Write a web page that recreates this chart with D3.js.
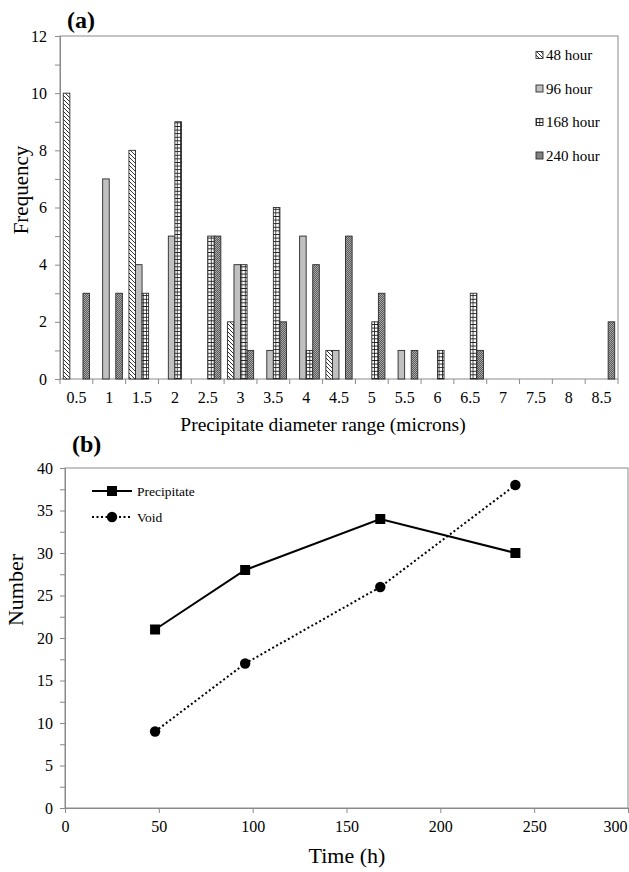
<!DOCTYPE html>
<html>
<head>
<meta charset="utf-8">
<script src="https://cdn.jsdelivr.net/npm/d3@7"></script>
<style>
  body { margin: 0; background: #fff; }
  text { font-family: "Liberation Serif", "Times New Roman", serif; fill: #000; }
</style>
</head>
<body>
<svg id="mainsvg" width="629" height="872"></svg>
<script>
// (a) frequency of precipitate diameters
const sizeBins = ['0.5', '1', '1.5', '2', '2.5', '3', '3.5', '4', '4.5', '5', '5.5', '6', '6.5', '7', '7.5', '8', '8.5'];
const seriesNames = ['48 hour', '96 hour', '168 hour', '240 hour'];
const freq48 = [10, 0, 8, 0, 0, 2, 0, 0, 1, 0, 0, 0, 0, 0, 0, 0, 0];
const freq96 = [0, 7, 4, 5, 0, 4, 1, 5, 1, 0, 1, 0, 0, 0, 0, 0, 0];
const freq168 = [0, 0, 3, 9, 5, 4, 6, 1, 0, 2, 0, 1, 3, 0, 0, 0, 0];
const freq240 = [3, 3, 0, 0, 5, 1, 2, 4, 5, 3, 1, 0, 1, 0, 0, 0, 2];
const freqTicks = [0, 2, 4, 6, 8, 10, 12];

// (b) counts over time
const times = [48, 96, 168, 240];
const precipitate = [21, 28, 34, 30];
const voids = [9, 17, 26, 38];
const timeTicks = [0, 50, 100, 150, 200, 250, 300];
const numberTicks = [0, 5, 10, 15, 20, 25, 30, 35, 40];

const svg = d3.select('#mainsvg');
const defs = svg.append('defs');
const axisGray = '#8a8a8a';

// patterns for the bars
const p48 = defs.append('pattern').attr('id', 'p48')
  .attr('patternUnits', 'userSpaceOnUse').attr('width', 4).attr('height', 4);
p48.append('rect').attr('width', 4).attr('height', 4).attr('fill', '#fff');
p48.append('path').attr('d', 'M-1,-1L5,5M3,-1L5,1M-1,3L1,5')
  .attr('stroke', '#333').attr('stroke-width', 1);

const p168 = defs.append('pattern').attr('id', 'p168')
  .attr('patternUnits', 'userSpaceOnUse').attr('width', 3.4).attr('height', 3.6);
p168.append('rect').attr('width', 3.4).attr('height', 3.6).attr('fill', '#1a1a1a');
p168.append('rect').attr('x', 0.8).attr('y', 0.9).attr('width', 2.6).attr('height', 2.7).attr('fill', '#fff');

const p240 = defs.append('pattern').attr('id', 'p240')
  .attr('patternUnits', 'userSpaceOnUse').attr('width', 2).attr('height', 2);
p240.append('rect').attr('width', 2).attr('height', 2).attr('fill', '#5c5c5c');
p240.append('rect').attr('width', 1).attr('height', 1).attr('fill', '#a8a8a8');
p240.append('rect').attr('x', 1).attr('y', 1).attr('width', 1).attr('height', 1).attr('fill', '#a8a8a8');

const fills = ['url(#p48)', '#c0c0c0', 'url(#p168)', 'url(#p240)'];

// ---------- chart (a) ----------
const A = { left: 60, right: 618, top: 36, bottom: 379 };
const x0 = d3.scaleBand().domain(sizeBins).range([A.left, A.right])
  .paddingInner(0.2).paddingOuter(0.1);
const x1 = d3.scaleBand().domain(seriesNames).range([0, x0.bandwidth()]);
const yA = d3.scaleLinear().domain([0, 12]).range([A.bottom, A.top]);

const ga = svg.append('g');
// frame
ga.append('rect').attr('x', A.left).attr('y', A.top)
  .attr('width', A.right - A.left).attr('height', A.bottom - A.top)
  .attr('fill', 'none').attr('stroke', axisGray).attr('stroke-width', 1);

const freqData = [freq48, freq96, freq168, freq240];
const barData = [];
sizeBins.forEach((b, i) => {
  seriesNames.forEach((s, j) => {
    if (freqData[j][i] > 0) barData.push({ bin: b, series: s, idx: j, v: freqData[j][i] });
  });
});
ga.selectAll('rect.bar').data(barData).join('rect')
  .attr('class', 'bar')
  .attr('x', d => x0(d.bin) + x1(d.series))
  .attr('y', d => yA(d.v))
  .attr('width', x1.bandwidth())
  .attr('height', d => yA(0) - yA(d.v))
  .attr('fill', d => fills[d.idx])
  .attr('stroke', '#2a2a2a').attr('stroke-width', 0.9);

// y axis (a)
const yAxisA = d3.axisLeft(yA).tickValues(d3.range(0, 13)).tickSize(5)
  .tickFormat(d => freqTicks.includes(d) ? d : '');
ga.append('g').attr('transform', `translate(${A.left},0)`).call(yAxisA)
  .attr('font-family', null)
  .call(g => g.select('.domain').attr('stroke', axisGray))
  .call(g => g.selectAll('.tick line').attr('stroke', axisGray))
  .call(g => g.selectAll('.tick text').attr('font-size', 16).attr('x', -13));

// x axis (a): ticks on the category boundaries
const bounds = d3.range(0, sizeBins.length + 1).map(i => A.left + i * x0.step());
ga.append('g').selectAll('line').data(bounds).join('line')
  .attr('x1', d => d).attr('x2', d => d)
  .attr('y1', A.bottom).attr('y2', A.bottom + 5)
  .attr('stroke', axisGray);
ga.append('g').selectAll('text').data(sizeBins).join('text')
  .attr('x', d => x0(d) + x0.bandwidth() / 2)
  .attr('y', A.bottom + 24)
  .attr('text-anchor', 'middle').attr('font-size', 16)
  .text(d => d);

ga.append('text').attr('x', 323).attr('y', 431).attr('text-anchor', 'middle')
  .attr('font-size', 19.5).text('Precipitate diameter range (microns)');
ga.append('text').attr('transform', 'translate(28,190) rotate(-90)')
  .attr('text-anchor', 'middle').attr('font-size', 21).text('Frequency');
ga.append('text').attr('x', 67).attr('y', 28).attr('font-size', 24)
  .attr('font-weight', 'bold').text('(a)');

// legend (a)
const legA = ga.append('g').selectAll('g').data(seriesNames).join('g')
  .attr('transform', (d, i) => `translate(536,${55 + i * 33.5})`);
legA.append('rect').attr('x', 0).attr('y', -3.5).attr('width', 7).attr('height', 7)
  .attr('fill', (d, i) => fills[i]).attr('stroke', '#2a2a2a').attr('stroke-width', 0.9);
legA.append('text').attr('x', 10).attr('y', 5).attr('font-size', 15).text(d => d);

// ---------- chart (b) ----------
const B = { left: 65, right: 628, top: 468, bottom: 808 };
const xB = d3.scaleLinear().domain([0, 300]).range([B.left, B.right]);
const yB = d3.scaleLinear().domain([0, 40]).range([B.bottom, B.top]);
const gb = svg.append('g');

gb.append('rect').attr('x', B.left).attr('y', B.top)
  .attr('width', B.right - B.left).attr('height', B.bottom - B.top)
  .attr('fill', 'none').attr('stroke', axisGray).attr('stroke-width', 1);

const yAxisB = d3.axisLeft(yB).tickValues(d3.range(0, 40.1, 2.5)).tickSize(5)
  .tickFormat(d => numberTicks.includes(d) ? d : '');
gb.append('g').attr('transform', `translate(${B.left},0)`).call(yAxisB)
  .attr('font-family', null)
  .call(g => g.select('.domain').attr('stroke', axisGray))
  .call(g => g.selectAll('.tick line').attr('stroke', axisGray))
  .call(g => g.selectAll('.tick text').attr('font-size', 16).attr('x', -12));

const xAxisB = d3.axisBottom(xB).tickValues(timeTicks).tickSize(5);
gb.append('g').attr('transform', `translate(0,${B.bottom})`).call(xAxisB)
  .attr('font-family', null)
  .call(g => g.select('.domain').attr('stroke', axisGray))
  .call(g => g.selectAll('.tick line').attr('stroke', axisGray))
  .call(g => g.selectAll('.tick text').attr('font-size', 16).attr('y', 13))
  // keep the last label inside the page
  .call(g => g.selectAll('.tick text').filter(d => d === 300)
    .attr('text-anchor', 'end').attr('x', -1));

gb.append('text').attr('x', 347).attr('y', 863).attr('text-anchor', 'middle')
  .attr('font-size', 22).text('Time (h)');
gb.append('text').attr('transform', 'translate(23,590) rotate(-90)')
  .attr('text-anchor', 'middle').attr('font-size', 22).text('Number');
gb.append('text').attr('x', 72).attr('y', 452).attr('font-size', 24)
  .attr('font-weight', 'bold').text('(b)');

const line = d3.line().x(d => xB(d[0])).y(d => yB(d[1]));
const precPts = times.map((t, i) => [t, precipitate[i]]);
const voidPts = times.map((t, i) => [t, voids[i]]);

gb.append('path').attr('d', line(precPts)).attr('fill', 'none')
  .attr('stroke', '#000').attr('stroke-width', 2);
gb.append('path').attr('d', line(voidPts)).attr('fill', 'none')
  .attr('stroke', '#000').attr('stroke-width', 2).attr('stroke-dasharray', '2,2.5');

gb.selectAll('rect.mk').data(precPts).join('rect').attr('class', 'mk')
  .attr('x', d => xB(d[0]) - 5).attr('y', d => yB(d[1]) - 5)
  .attr('width', 10).attr('height', 10).attr('fill', '#000');
gb.selectAll('circle.mk').data(voidPts).join('circle').attr('class', 'mk')
  .attr('cx', d => xB(d[0])).attr('cy', d => yB(d[1])).attr('r', 5.2).attr('fill', '#000');

// legend (b)
const legB = gb.append('g');
legB.append('line').attr('x1', 92).attr('x2', 132).attr('y1', 491).attr('y2', 491)
  .attr('stroke', '#000').attr('stroke-width', 2);
legB.append('rect').attr('x', 107).attr('y', 486).attr('width', 10).attr('height', 10);
legB.append('text').attr('x', 137).attr('y', 495.5).attr('font-size', 13.5).text('Precipitate');
legB.append('line').attr('x1', 92).attr('x2', 132).attr('y1', 517).attr('y2', 517)
  .attr('stroke', '#000').attr('stroke-width', 2).attr('stroke-dasharray', '2,2.5');
legB.append('circle').attr('cx', 112).attr('cy', 517).attr('r', 5.2);
legB.append('text').attr('x', 137).attr('y', 521.5).attr('font-size', 13.5).text('Void');
</script>
</body>
</html>
